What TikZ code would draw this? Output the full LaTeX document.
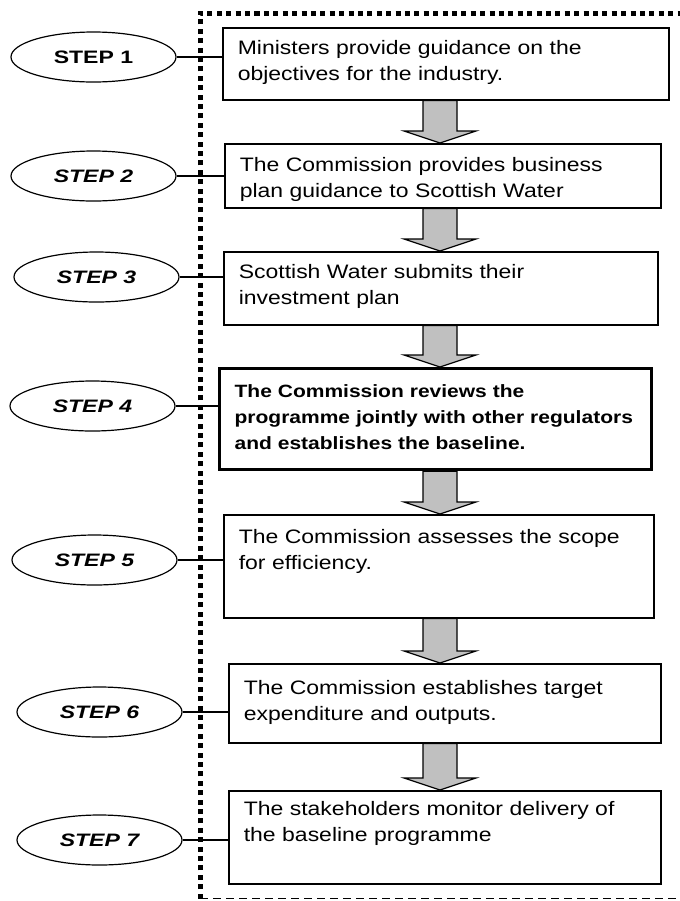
\documentclass[tikz,border=0pt]{standalone}
\usepackage{fontspec}
\setmainfont{Liberation Sans}[FakeStretch=1.18]
\newfontfamily\stepfont{Liberation Sans}[FakeStretch=1.28]
\usetikzlibrary{shapes.geometric,calc}

\definecolor{arrowgrey}{RGB}{192,192,192}

\tikzstyle{stepnode} = [ellipse, draw, line width=0.9pt, minimum width=123.75pt, minimum height=37.5pt, inner sep=0pt, font=\stepfont\fontsize{13.5pt}{15pt}\selectfont\bfseries\itshape]
\tikzstyle{block} = [rectangle, draw, line width=1.2pt, fill=white, anchor=north west, inner xsep=11.25pt, inner ysep=0pt, align=left, font=\fontsize{14.6pt}{19.5pt}\selectfont]
\tikzstyle{keyblock} = [block, line width=2.4pt, font=\bfseries\fontsize{13.35pt}{19.5pt}\selectfont]
\tikzstyle{link} = [line width=1.2pt]
\tikzstyle{flow} = [draw, fill=arrowgrey, line width=0.9pt, line join=miter]
\tikzstyle{frame} = [line width=3.75pt, dash pattern=on 3.75pt off 3.3pt]
\tikzstyle{framebase} = [line width=1.1pt, dash pattern=on 6pt off 3.75pt]

% grey block arrow from the bottom of one box to the top of the next
\newcommand{\flowarrow}[2]{%
  \draw [flow] ($(axis |- #1.south)+(-17,0)$) -- ($(axis |- #2.north)+(-17,-12)$)
    -- ($(axis |- #2.north)+(-36,-12)$) -- (axis |- #2.north)
    -- ($(axis |- #2.north)+(36,-12)$) -- ($(axis |- #2.north)+(17,-12)$)
    -- ($(axis |- #1.south)+(17,0)$) -- cycle;}

\begin{document}
\begin{tikzpicture}[x=0.75pt, y=-0.75pt]
\useasboundingbox (0,0) rectangle (680,901);
\coordinate (axis) at (440,0);

% dotted frame round the boxes
\coordinate (frameTL) at (200,13);
\coordinate (frameTR) at (680,13);
\coordinate (frameBL) at (200,898.5);
\coordinate (frameBR) at (680,898.5);
\draw [frame] (frameBL) -- (frameTL) -- (frameTR);
\draw [framebase] (frameBL) -- (frameBR);

% the steps
\node (step1) [stepnode] at (93.5,57) {\upshape STEP 1};
\node (step2) [stepnode] at (93.5,176) {STEP 2};
\node (step3) [stepnode] at (96.5,277) {STEP 3};
\node (step4) [stepnode] at (92.5,406) {STEP 4};
\node (step5) [stepnode] at (94.5,560) {STEP 5};
\node (step6) [stepnode] at (99.5,712) {STEP 6};
\node (step7) [stepnode] at (99.5,840) {STEP 7};

% what happens at each step
\node (act1) [block, text width=312pt, text height=20.25pt, text depth=33.75pt] at (222,27) {Ministers provide guidance on the\\objectives for the industry.};
\node (act2) [block, text width=304.5pt, text height=21pt, text depth=27pt] at (224,143) {The Commission provides business\\plan guidance to Scottish Water};
\node (act3) [block, text width=303pt, text height=20.25pt, text depth=34.5pt] at (223,251) {Scottish Water submits their\\investment plan};
\node (act4) [keyblock, text width=301.5pt, text height=21.75pt, text depth=54pt] at (218,367) {The Commission reviews the\\programme jointly with other regulators\\and establishes the baseline.};
\node (act5) [block, text width=300pt, text height=21.75pt, text depth=55.5pt] at (223,514) {The Commission assesses the scope\\for efficiency.};
\node (act6) [block, text width=301.5pt, text height=23.25pt, text depth=36pt] at (228,663) {The Commission establishes target\\expenditure and outputs.};
\node (act7) [block, text width=301.5pt, text height=18.75pt, text depth=51pt] at (228,790) {The stakeholders monitor delivery of\\the baseline programme};

\draw [link] (step1.east) -- (step1.east -| act1.west);
\draw [link] (step2.east) -- (step2.east -| act2.west);
\draw [link] (step3.east) -- (step3.east -| act3.west);
\draw [link] (step4.east) -- (step4.east -| act4.west);
\draw [link] (step5.east) -- (step5.east -| act5.west);
\draw [link] (step6.east) -- (step6.east -| act6.west);
\draw [link] (step7.east) -- (step7.east -| act7.west);

\flowarrow{act1}{act2}
\flowarrow{act2}{act3}
\flowarrow{act3}{act4}
\flowarrow{act4}{act5}
\flowarrow{act5}{act6}
\flowarrow{act6}{act7}
\end{tikzpicture}
\end{document}
